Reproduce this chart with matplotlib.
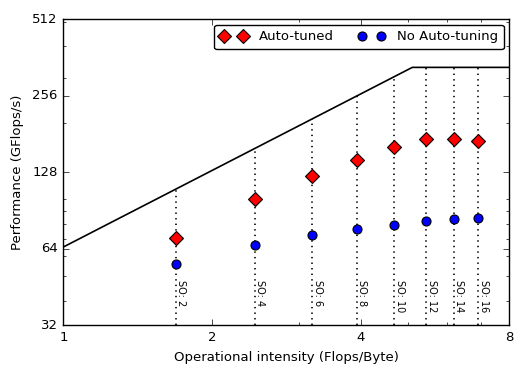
import matplotlib
matplotlib.use("Agg")
import matplotlib.pyplot as plt
import numpy as np
from matplotlib.ticker import FixedLocator, LogLocator, NullFormatter, ScalarFormatter

# stencil orders and measured operational intensity
space_orders = [2, 4, 6, 8, 10, 12, 14, 16]
oi = [1.69, 2.44, 3.19, 3.93, 4.68, 5.43, 6.18, 6.92]
auto_tuned = [70.6, 100.5, 123.4, 143.5, 161.0, 173.6, 173.6, 169.5]
no_tuning = [55.8, 66.1, 72.4, 76.4, 79.2, 82.3, 83.6, 84.4]

# roofline
bandwidth = 65.0   # GB/s
peak = 331.0       # GFlops/s

x_ticks = [1, 2, 4, 8]
y_ticks = [32, 64, 128, 256, 512]


def main():
    plt.style.use("classic")
    plt.rcParams["font.size"] = 9.5
    fig = plt.figure(figsize=(5.19, 3.70), dpi=100, facecolor="white")
    ax = fig.add_axes([0.122, 0.121, 0.859, 0.827])

    knee = peak / bandwidth
    roof_x = [x_ticks[0], knee, x_ticks[-1]]
    roof_y = [bandwidth * roof_x[0], peak, peak]
    ax.plot(roof_x, roof_y, "k-", linewidth=1.2)

    for so, x in zip(space_orders, oi):
        top = min(bandwidth * x, peak)
        ax.plot([x, x], [y_ticks[0], top], "k:", linewidth=1.2)
        ax.text(x * 1.003, 48, f"SO: {so}", rotation=270, fontsize=7,
                ha="left", va="top")

    ax.plot(oi, auto_tuned, "D", color="red", markeredgecolor="black",
            markeredgewidth=0.8, markersize=7.5, label="Auto-tuned",
            linestyle="none")
    ax.plot(oi, no_tuning, "o", color="blue", markeredgecolor="black",
            markeredgewidth=0.8, markersize=6.5, label="No Auto-tuning",
            linestyle="none")

    ax.set_xscale("log", base=2)
    ax.set_yscale("log", base=2)
    ax.set_xlim(x_ticks[0], x_ticks[-1])
    ax.set_ylim(y_ticks[0], y_ticks[-1])

    ax.xaxis.set_major_locator(FixedLocator(x_ticks))
    ax.yaxis.set_major_locator(FixedLocator(y_ticks))
    ax.xaxis.set_major_formatter(ScalarFormatter())
    ax.yaxis.set_major_formatter(ScalarFormatter())
    ax.xaxis.set_minor_locator(LogLocator(base=10, subs=np.arange(2, 10)))
    ax.yaxis.set_minor_locator(LogLocator(base=10, subs=np.arange(1, 10)))
    ax.xaxis.set_minor_formatter(NullFormatter())
    ax.yaxis.set_minor_formatter(NullFormatter())
    ax.tick_params(labelsize=9.5)

    ax.set_xlabel("Operational intensity (Flops/Byte)", fontsize=9.5)
    ax.set_ylabel("Performance (GFlops/s)", fontsize=9.5, labelpad=6)

    ax.legend(loc="upper right", ncol=2, numpoints=2, fontsize=9.5,
              fancybox=True, borderaxespad=0.4, borderpad=0.45,
              handletextpad=0.9, handlelength=2.0, columnspacing=1.9)

    fig.savefig("out.png", dpi=100, facecolor="white")


if __name__ == "__main__":
    main()
